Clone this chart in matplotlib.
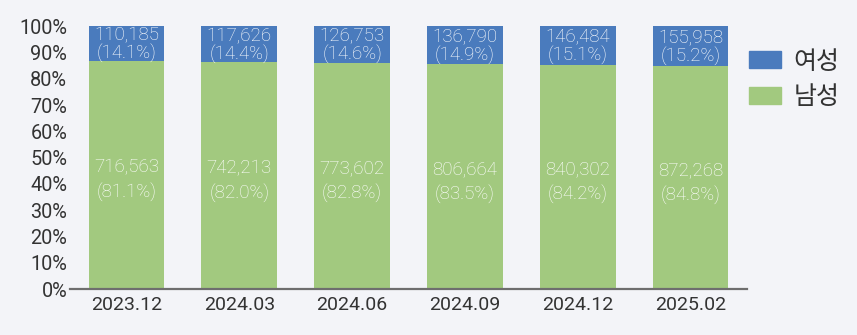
import numpy as np
import matplotlib.pyplot as plt
from matplotlib.patches import Patch

periods = ["2023.12", "2024.03", "2024.06", "2024.09", "2024.12", "2025.02"]
female = [110185, 117626, 126753, 136790, 146484, 155958]
male = [716563, 742213, 773602, 806664, 840302, 872268]
female_pct = ["14.1%", "14.4%", "14.6%", "14.9%", "15.1%", "15.2%"]
male_pct = ["81.1%", "82.0%", "82.8%", "83.5%", "84.2%", "84.8%"]

BG = "#f3f4f8"
BLUE = "#4a7bbd"
GREEN = "#a2c97f"
TXT = "#333333"
plt.rcParams["font.family"] = ["Roboto", "Noto Sans CJK KR", "DejaVu Sans"]

f = np.array(female, dtype=float)
m = np.array(male, dtype=float)
tot = f + m
m_share = m / tot * 100
f_share = f / tot * 100

fig = plt.figure(figsize=(8.57, 3.35), dpi=100, facecolor=BG)
ax = fig.add_axes([0.0817, 0.137, 0.79, 0.785])
ax.set_facecolor(BG)

x = np.arange(len(periods))
w = 0.67
ax.bar(x, m_share, width=w, color=GREEN)
ax.bar(x, f_share, width=w, bottom=m_share, color=BLUE)

# two-line labels: count and share
for i in range(len(periods)):
    ax.text(x[i], m_share[i] / 2 - 2, f"{male[i]:,}\n({male_pct[i]})", ha="center", va="center",
            color="white", fontsize=13.5, fontweight="light", linespacing=1.45)
    ax.text(x[i], m_share[i] + f_share[i] / 2 - 0.5, f"{female[i]:,}\n({female_pct[i]})", ha="center",
            va="center", color="white", fontsize=13.5, fontweight="light", linespacing=1.0)

ax.set_xlim(-0.5, 5.5)
ax.set_ylim(0, 100)
ax.set_yticks(range(0, 101, 10))
ax.set_yticklabels([f"{v}%" for v in range(0, 101, 10)])
ax.set_xticks(x)
ax.set_xticklabels(periods)
ax.tick_params(axis="y", labelsize=14.3, colors=TXT, length=0, pad=2)
ax.tick_params(axis="x", labelsize=14, colors=TXT, length=0, pad=5)
for s in ["top", "right", "left"]:
    ax.spines[s].set_visible(False)
ax.spines["bottom"].set_color("#6e6e6e")
ax.spines["bottom"].set_linewidth(1.6)

handles = [Patch(color=BLUE, label="여성"), Patch(color=GREEN, label="남성")]
fig.legend(handles=handles, loc="upper left", bbox_to_anchor=(0.862, 0.885), frameon=False,
           prop={"family": ["Noto Sans CJK KR"], "size": 18}, handlelength=1.3, handleheight=0.66,
           handletextpad=0.5, labelspacing=0.38, labelcolor=TXT, borderaxespad=0)

fig.savefig("out.png", dpi=100, facecolor=BG)
